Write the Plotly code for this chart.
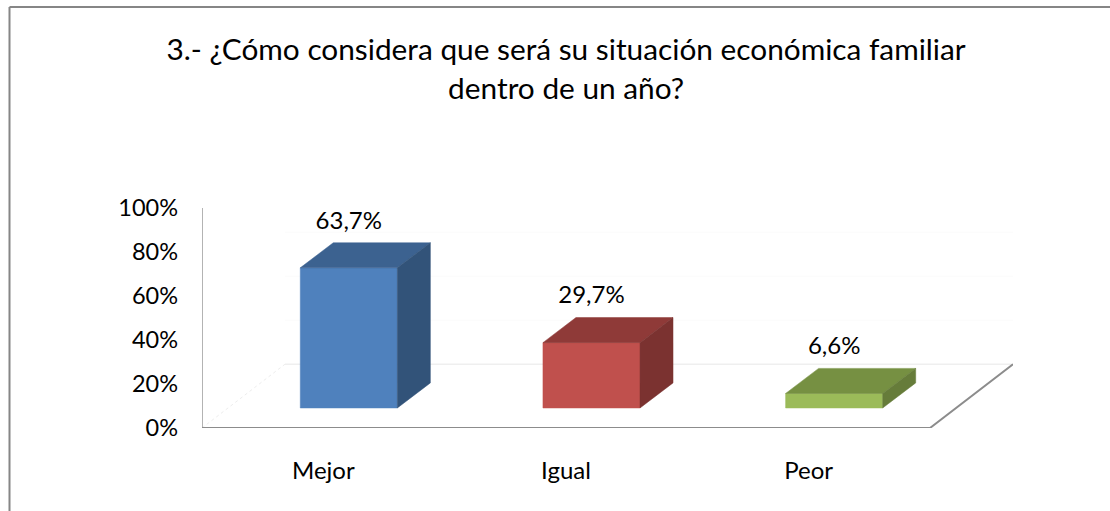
import plotly.graph_objects as go

categories = ["Mejor", "Igual", "Peor"]
values = [63.7, 29.7, 6.6]
y_ticks = [0, 20, 40, 60, 80, 100]
y_tick_labels = ["0%", "20%", "40%", "60%", "80%", "100%"]
back_grid = [0, 20, 40, 60]
title_lines = ["3.- ¿Cómo considera que será su situación económica familiar", "dentro de un año?"]

front_colors = ["#4F81BD", "#C0504D", "#9BBB59"]
top_colors = ["#3C6290", "#8F3A38", "#769042"]
side_colors = ["#325379", "#7B3230", "#667C3A"]

FONT = "Lato"
W, H = 1110, 511
ML, MR, MT, MB = 202, 97, 208, 83
X_MIN, X_MAX = -0.5, 2.842
FLOOR_DX, FLOOR_DY = 0.342, 29.0   # depth of the floor, in axis units
BAR_W = 0.2                         # half width
BAR_OX, BAR_OY = 0.105, 9.1         # offset of the bar front from the floor front
BAR_DX, BAR_DY = 0.136, 11.4        # depth of a bar

fig = go.Figure()


def poly(xs, ys, color, **kw):
    fig.add_trace(go.Scatter(x=xs + xs[:1], y=ys + ys[:1], mode="lines", fill="toself",
                             fillcolor=color, line=dict(color=color, width=0.5),
                             hoverinfo="skip", showlegend=False, cliponaxis=False, **kw))


def line(xs, ys, color, width, dash="solid"):
    fig.add_trace(go.Scatter(x=xs, y=ys, mode="lines", line=dict(color=color, width=width, dash=dash),
                             hoverinfo="skip", showlegend=False, cliponaxis=False))


# back wall gridlines
for g in back_grid:
    line([X_MIN + FLOOR_DX, X_MAX], [FLOOR_DY + g, FLOOR_DY + g],
         "#EFEFEF" if g == 0 else "#FBFBFB", 1.5 if g == 0 else 1)
# faint left floor edge
line([X_MIN, X_MIN + FLOOR_DX], [0, FLOOR_DY], "#EDEDED", 1, "dot")
# value axis line
line([X_MIN, X_MIN], [y_ticks[0], y_ticks[-1]], "#9A9A9A", 1.5)
# floor front and right edges
line([X_MIN, X_MIN + 3, X_MAX], [0, 0, FLOOR_DY], "#8C8C8C", 2)

# bars
for i, v in enumerate(values):
    x0 = i + BAR_OX - BAR_W
    x1 = i + BAR_OX + BAR_W
    y0 = BAR_OY
    y1 = BAR_OY + v
    poly([x0, x1, x1, x0], [y0, y0, y1, y1], front_colors[i])
    poly([x0, x1, x1 + BAR_DX, x0 + BAR_DX], [y1, y1, y1 + BAR_DY, y1 + BAR_DY], top_colors[i])
    poly([x1, x1 + BAR_DX, x1 + BAR_DX, x1], [y0, y0 + BAR_DY, y1 + BAR_DY, y1], side_colors[i])

# value labels
fig.add_trace(go.Scatter(
    x=[i + BAR_OX for i in range(len(values))],
    y=[BAR_OY + v + BAR_DY + 9.2 for v in values],
    mode="text",
    text=[f"{v:.1f}".replace(".", ",") + "%" for v in values],
    textposition="middle center",
    textfont=dict(family=FONT, size=24, color="#000000"),
    hoverinfo="skip", showlegend=False, cliponaxis=False))

fig.update_layout(
    width=W, height=H,
    margin=dict(l=ML, r=MR, t=MT, b=MB, pad=0),
    paper_bgcolor="#FFFFFF", plot_bgcolor="#FFFFFF",
    font=dict(family=FONT, size=24, color="#000000"),
    title=dict(text="<br>".join(title_lines), x=0.51, xanchor="center",
               y=1 - 60 / H, yanchor="top", font=dict(family=FONT, size=29.8, color="#000000")),
    xaxis=dict(range=[X_MIN, X_MAX], tickmode="array", tickvals=list(range(len(categories))),
               ticktext=categories, showgrid=False, zeroline=False, showline=False, ticks="",
               ticklabelstandoff=26, tickfont=dict(family=FONT, size=24)),
    yaxis=dict(range=[0, 100], tickmode="array", tickvals=y_ticks, ticktext=y_tick_labels,
               showgrid=False, zeroline=False, showline=False,
               ticks="", ticklabelstandoff=23, tickfont=dict(family=FONT, size=23.5)),
    shapes=[
        dict(type="line", xref="paper", yref="paper",
             x0=(9.5 - ML) / (W - ML - MR), x1=(W - ML) / (W - ML - MR),
             y0=1 + (MT - 7) / (H - MT - MB), y1=1 + (MT - 7) / (H - MT - MB),
             line=dict(color="#868686", width=2)),
        dict(type="line", xref="paper", yref="paper",
             x0=(9.5 - ML) / (W - ML - MR), x1=(9.5 - ML) / (W - ML - MR),
             y0=1 + (MT - 7) / (H - MT - MB), y1=-MB / (H - MT - MB),
             line=dict(color="#868686", width=2)),
    ],
)

fig.write_html("out.html", config={"displayModeBar": False},
               post_script="document.body.style.margin='0';document.body.style.overflow='hidden';")
